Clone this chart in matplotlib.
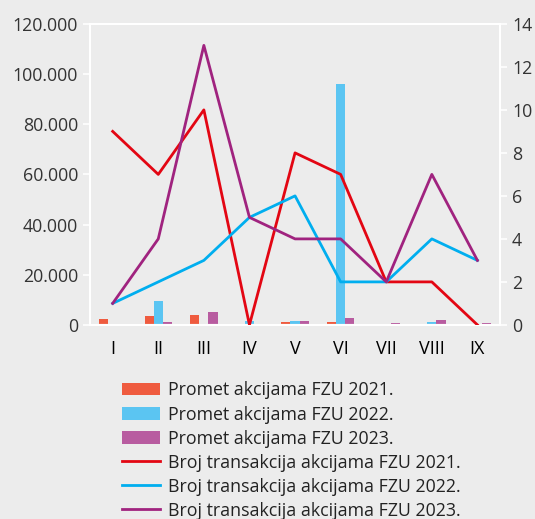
import numpy as np
import matplotlib.pyplot as plt
from matplotlib.ticker import FuncFormatter

plt.rcParams['font.family'] = ['Open Sans', 'DejaVu Sans']

months = ["I", "II", "III", "IV", "V", "VI", "VII", "VIII", "IX"]

# Promet akcijama (left axis)
promet_2021 = [2400, 3600, 4100, 0, 1100, 1000, 200, 200, 0]
promet_2022 = [0, 9600, 400, 1500, 1500, 96000, 0, 1100, 300]
promet_2023 = [500, 1300, 5200, 400, 1400, 2700, 900, 1900, 700]

# Broj transakcija (right axis)
broj_2021 = [9, 7, 10, 0, 8, 7, 2, 2, 0]
broj_2022 = [1, 2, 3, 5, 6, 2, 2, 4, 3]
broj_2023 = [1, 4, 13, 5, 4, 4, 2, 7, 3]

BG = "#ececec"
bar_colors = ["#ef5b3f", "#5bc5f2", "#b85ca0"]
line_colors = ["#e30613", "#00aeef", "#a0237f"]

fig = plt.figure(figsize=(5.35, 5.19), dpi=100, facecolor=BG)
ax = fig.add_axes([0.168, 0.374, 0.767, 0.580], facecolor=BG)
ax2 = ax.twinx()

x = np.arange(len(months))
w = 0.2
bars = []
for i, (vals, c) in enumerate(zip([promet_2021, promet_2022, promet_2023], bar_colors)):
    b = ax.bar(x + (i - 1) * w, vals, width=w, color=c, zorder=2)
    bars.append(b)

lines = []
for vals, c in zip([broj_2021, broj_2022, broj_2023], line_colors):
    ln, = ax2.plot(x, vals, color=c, linewidth=2.0, zorder=3)
    lines.append(ln)

ax.set_xlim(-0.5, len(months) - 0.5)
ax.set_ylim(0, 120000)
ax.set_yticks(np.arange(0, 120001, 20000))
ax.yaxis.set_major_formatter(FuncFormatter(lambda v, p: f"{int(v):,}".replace(",", ".")))
ax2.set_ylim(0, 14)
ax2.set_yticks(np.arange(0, 15, 2))

ax.set_xticks(x)
ax.set_xticklabels(months)

for a in (ax, ax2):
    for s in a.spines.values():
        s.set_color("white")
        s.set_linewidth(1.5)
    a.tick_params(axis="y", colors="white", labelcolor="#333333", labelsize=12.8,
                  length=5, width=1.2)
ax.tick_params(axis="x", length=0, labelsize=13, labelcolor="black", pad=11)
ax2.set_zorder(ax.get_zorder() + 1)
ax2.patch.set_visible(False)

labels = ["Promet akcijama FZU 2021.", "Promet akcijama FZU 2022.",
          "Promet akcijama FZU 2023.", "Broj transakcija akcijama FZU 2021.",
          "Broj transakcija akcijama FZU 2022.", "Broj transakcija akcijama FZU 2023."]
fig.legend(bars + lines, labels, loc="upper left", bbox_to_anchor=(0.228, 0.265),
           frameon=False, fontsize=12.8, handlelength=2.15, handleheight=0.7,
           labelspacing=0.34, handletextpad=0.45, borderpad=0, borderaxespad=0,
           labelcolor="#222222")

fig.savefig("out.png", dpi=100, facecolor=BG)
